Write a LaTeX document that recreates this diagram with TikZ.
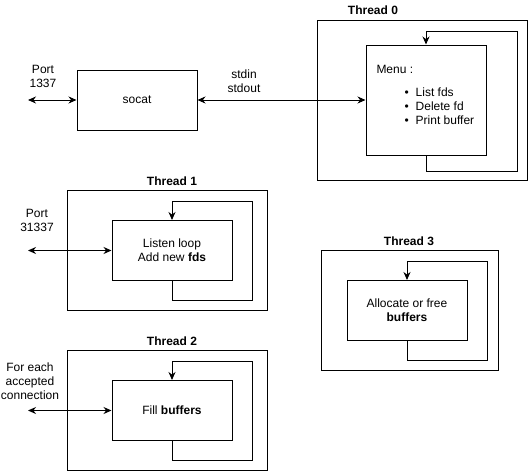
\documentclass[tikz,border=0pt]{standalone}
\usepackage{fontspec}
\setmainfont{Liberation Sans}
\usetikzlibrary{arrows.meta}

\begin{document}
\begin{tikzpicture}[x=1pt,y=-1pt,line width=1pt,
        font=\fontsize{12}{14}\selectfont,
        box/.style={draw, inner sep=0pt, align=center},
        title/.style={font=\fontsize{12}{14}\selectfont\bfseries},
        txt/.style={align=center, inner sep=0pt},
        loopline/.style={-{Stealth[length=8pt,width=7pt]}},
        both/.style={{Stealth[length=8pt,width=7pt]}-{Stealth[length=8pt,width=7pt]}}]
        \useasboundingbox (0,0) rectangle (528,471);

        % thread 0
        \node[box, minimum width=210, minimum height=160] (t0) at (422,100) {};
        \node[title] (t0title) at (373,10) {Thread 0};
        \node[box, minimum width=120, minimum height=110] (menu) at (426,100) {};
        \node[txt, anchor=west] (menutitle) at (376,69) {Menu :};
        \node[txt, anchor=west] (menulist) at (404,108) {%
            \begin{tabular}{@{}l@{\hspace{7pt}}l@{}}
            \textbullet & List fds\\
            \textbullet & Delete fd\\
            \textbullet & Print buffer
            \end{tabular}};
        \coordinate (t0c) at (517,31);
        \draw[loopline] (menu.south) -- ++(0,16) -| (t0c) -| (menu.north);

        % socat
        \node[box, minimum width=120, minimum height=60] (socat) at (137,100) {socat};
        \node[txt] (port0) at (43,76) {Port\\1337};
        \node[txt] (stdio) at (244,81) {stdin\\stdout};
        \coordinate (p0) at (28,100);
        \draw[both] (p0) -- (socat.west);
        \draw[both] (socat.east) -- (menu.west);

        % thread 1
        \node[box, minimum width=200, minimum height=120] (t1) at (167.5,250.5) {};
        \node[title] (t1title) at (172,181) {Thread 1};
        \node[box, minimum width=120, minimum height=60] (listen) at (172,250.5) {Listen loop\\Add new \textbf{fds}};
        \node[txt] (port1) at (37,220) {Port\\31337};
        \coordinate (p1) at (28,250.5);
        \coordinate (t1c) at (252,201);
        \draw[both] (p1) -- (listen.west);
        \draw[loopline] (listen.south) -- ++(0,19.5) -| (t1c) -| (listen.north);

        % thread 2
        \node[box, minimum width=200, minimum height=120] (t2) at (167.5,410.5) {};
        \node[title] (t2title) at (172,341) {Thread 2};
        \node[box, minimum width=120, minimum height=60] (fill) at (172,410.5) {Fill \textbf{buffers}};
        \node[txt] (conn) at (30,381) {For each\\accepted\\connection};
        \coordinate (p2) at (28,410.5);
        \coordinate (t2c) at (252,361);
        \draw[both] (p2) -- (fill.west);
        \draw[loopline] (fill.south) -- ++(0,19.5) -| (t2c) -| (fill.north);

        % thread 3
        \node[box, minimum width=177, minimum height=120] (t3) at (409.5,310.5) {};
        \node[title] (t3title) at (409,241) {Thread 3};
        \node[box, minimum width=120, minimum height=60] (alloc) at (407,310.5) {Allocate or free\\\textbf{buffers}};
        \coordinate (t3c) at (487,261);
        \draw[loopline] (alloc.south) -- ++(0,19.5) -| (t3c) -| (alloc.north);
\end{tikzpicture}
\end{document}
